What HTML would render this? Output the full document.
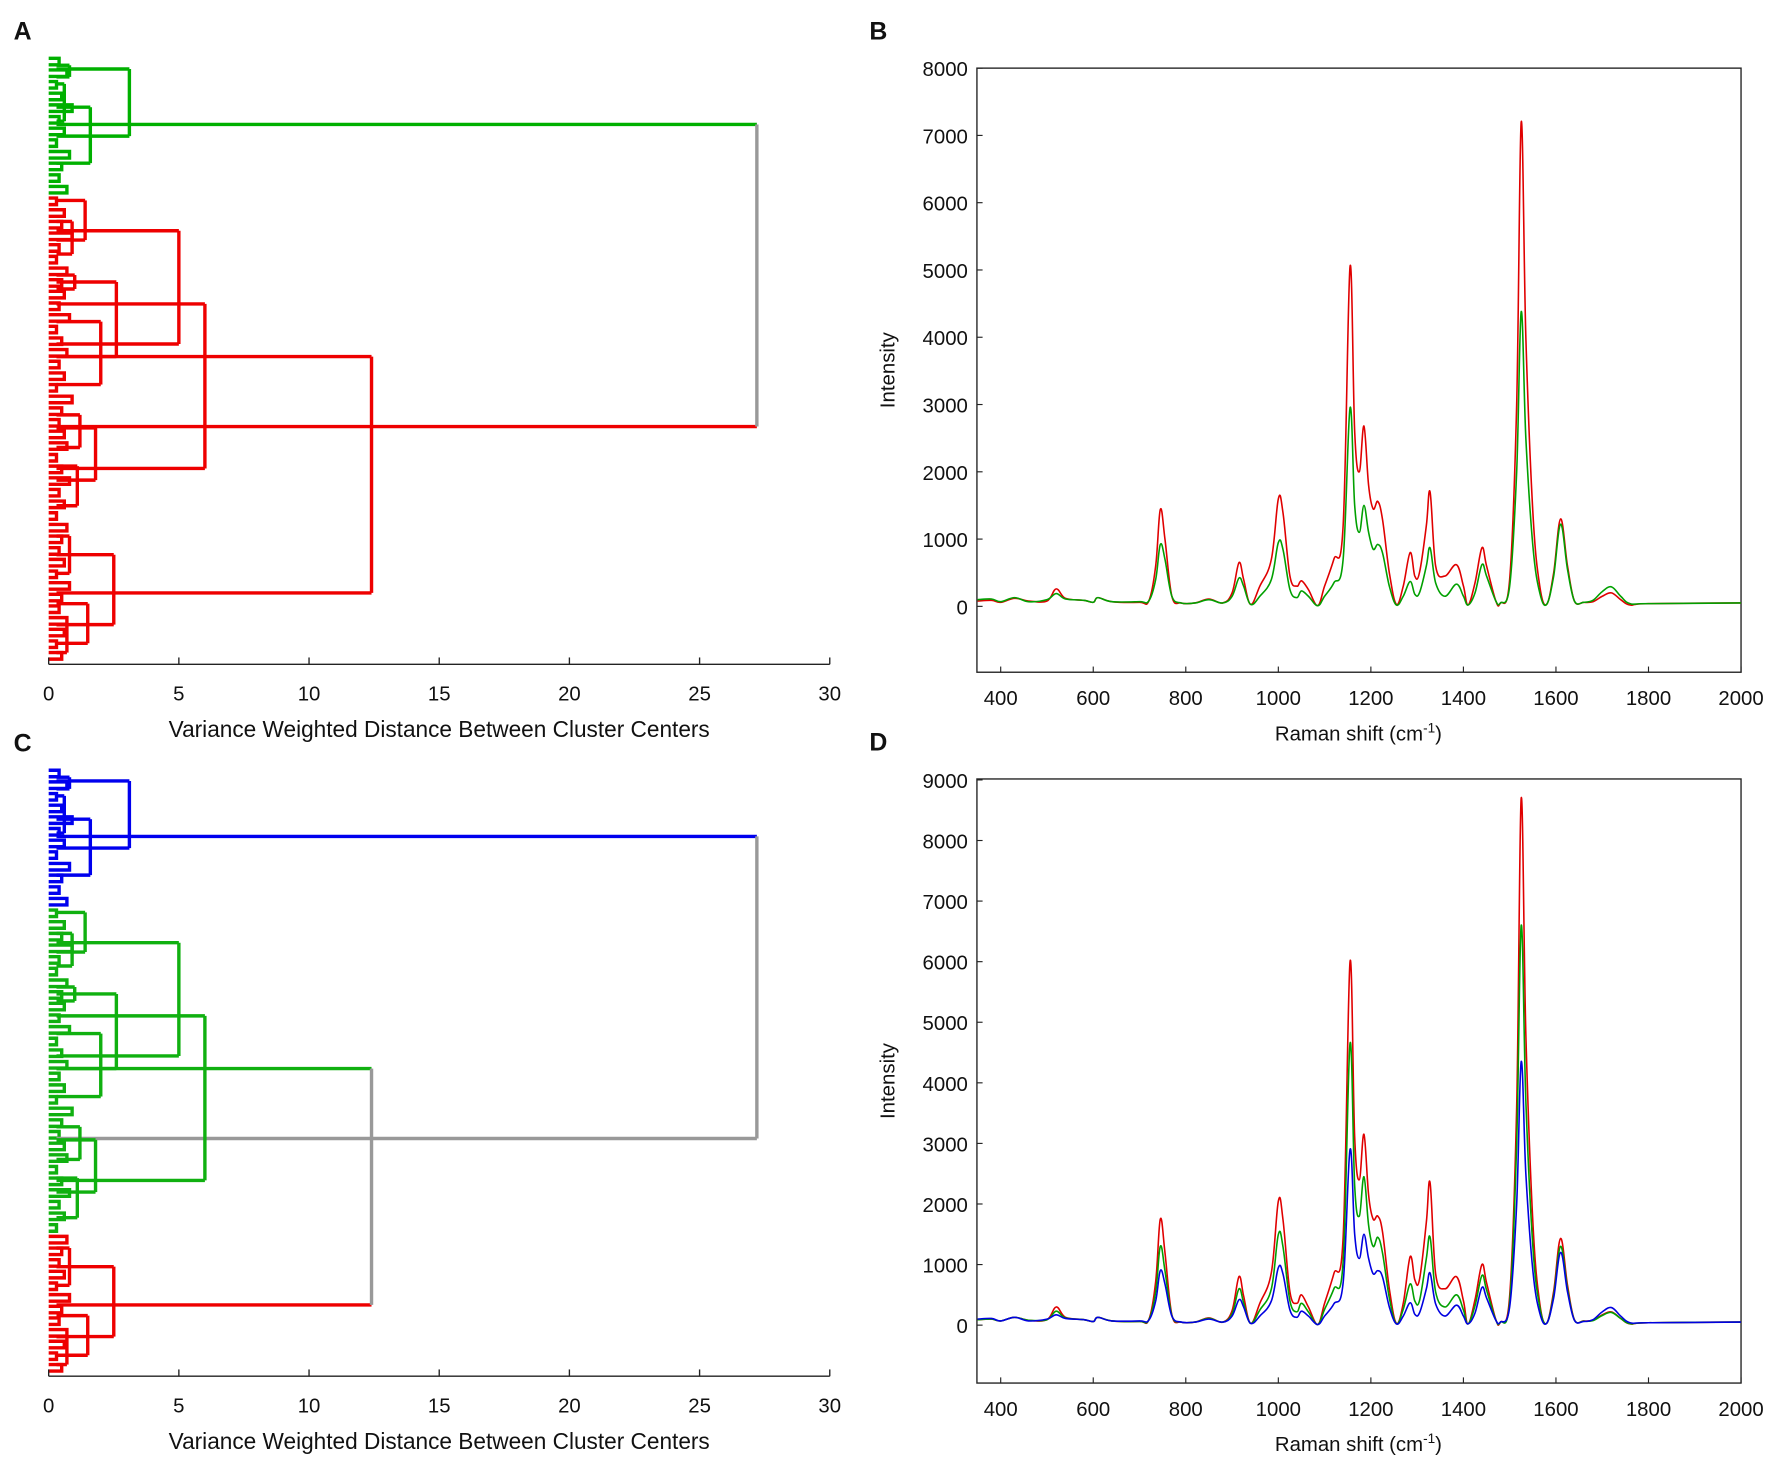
<!DOCTYPE html>
<html><head><meta charset="utf-8">
<style>
html,body{margin:0;padding:0;background:#fff;}
svg{display:block;}
text{font-family:"Liberation Sans",Arial,sans-serif;fill:#111;}
</style></head>
<body>
<svg id="fig" width="1775" height="1458" viewBox="0 0 1568 1284" preserveAspectRatio="none" xmlns="http://www.w3.org/2000/svg">
<g id="pA"></g>
<g id="pC"></g>
<g id="pB"></g>
<g id="pD"></g>
</svg>
<script>
// ---------- spectra data ----------
const shifts = [350,380,400,430,460,500,520,540,580,600,610,640,700,720,735,745,755,770,790,820,850,880,900,915,925,940,960,985,1000,1010,1025,1040,1050,1065,1085,1100,1120,1140,1155,1165,1175,1185,1195,1205,1215,1225,1240,1255,1270,1285,1295,1305,1320,1328,1340,1360,1385,1400,1410,1425,1440,1450,1470,1480,1500,1515,1525,1535,1550,1565,1580,1595,1610,1625,1640,1660,1680,1700,1720,1740,1760,1800,2000];
const bRed = [80,90,60,120,80,80,260,120,90,60,130,70,60,80,600,1440,1000,150,50,50,110,50,200,650,400,30,300,700,1600,1400,450,300,380,250,10,300,700,1200,5050,2600,2000,2680,1800,1450,1560,1300,500,30,300,800,450,500,1200,1700,600,450,620,300,20,350,870,600,80,50,400,3000,7200,4000,1400,300,30,500,1300,600,80,60,70,150,200,100,20,40,50];
const bGreen = [100,110,70,130,70,100,190,110,90,60,130,70,70,80,400,920,700,150,50,50,100,50,150,420,300,30,150,400,950,850,250,130,230,150,10,150,350,700,2950,1500,1100,1500,1100,850,920,800,300,20,150,370,180,200,600,870,350,150,330,150,20,200,620,450,80,50,300,2000,4380,2500,900,200,30,450,1220,550,80,60,90,220,290,150,40,40,50];
const dRed = [90,100,70,130,80,90,300,130,90,60,130,70,60,90,720,1750,1200,170,50,50,120,50,240,800,480,30,360,870,2050,1750,550,360,500,300,10,360,850,1450,6000,3100,2400,3150,2150,1750,1800,1550,600,30,360,1130,750,750,1700,2350,850,600,800,400,20,420,1000,700,90,50,480,3600,8700,4800,1700,360,30,560,1430,660,90,70,80,170,220,110,20,40,50];
const dGreen = [90,100,70,130,80,90,230,120,90,60,130,70,60,85,550,1300,900,160,50,50,110,50,190,600,370,30,250,600,1500,1300,400,220,360,220,10,260,600,1050,4650,2300,1800,2450,1650,1300,1450,1200,450,25,260,680,400,400,1100,1450,550,300,500,250,20,320,820,580,85,50,380,3000,6600,3700,1300,300,30,500,1300,600,85,65,75,160,210,110,25,40,50];
const dBlue = [100,110,70,130,70,100,170,110,90,60,130,70,70,80,400,900,680,150,50,50,100,50,150,420,300,30,150,400,950,850,250,130,230,150,10,150,350,700,2900,1500,1100,1500,1100,850,900,800,300,20,150,370,180,200,600,860,350,150,330,150,20,200,620,450,80,50,300,2000,4350,2500,900,200,30,450,1200,550,80,60,90,220,290,150,40,40,50];
const xTicks = [400,600,800,1000,1200,1400,1600,1800,2000];
const yTicksB = [0,1000,2000,3000,4000,5000,6000,7000,8000];
const yTicksD = [0,1000,2000,3000,4000,5000,6000,7000,8000,9000];
// ---------- dendrogram data (distances; y in leaf units) ----------
const linkDist = [27.2,3.1,1.6,0.8,12.4,6.0,5.0,1.4,2.6,1.0,2.0,1.8,1.1,2.5,0.8,1.5,0.9,0.6,1.2,0.7];
const linkTop  = [267,148,230,140,765,652,495,430,605,590,690,918,1000,1190,1150,1295,475,180,890,1340];
const linkBot  = [915,292,350,165,1272,1005,738,515,765,620,825,1030,1085,1340,1230,1380,545,260,960,1400];
const leafDist = [0.4,0.7,0.3,0.5,0.9,0.4,0.6,0.3,0.8,0.5,0.4,0.7,0.3,0.6,0.5,0.9,0.4,0.3,0.7,0.5,0.6,0.4,0.8,0.3,0.5,0.7,0.4,0.6,0.3,0.9,0.5,0.4,0.6,0.7,0.3,0.5,0.8,0.4,0.6,0.3,0.7,0.5,0.4,0.6,0.3,0.8,0.5,0.4,0.7,0.6,0.3,0.5];
const distTicks = [0,5,10,15,20,25,30];

const NS='http://www.w3.org/2000/svg';
function mk(parent,tag,attrs,txt){const e=document.createElementNS(NS,tag);for(const k in attrs)e.setAttribute(k,attrs[k]);if(txt!==undefined)e.textContent=txt;parent.appendChild(e);return e;}

function leafColor(y,mode){
  if(mode==='A') return y<=410?'#00b000':'#ee0000';
  return y<=410?'#0000ee':(y<=1105?'#10b010':'#ee0000');
}
function dendro(g,off,mode,label){
  const X=d=>43+d*23, Y=z=>z/2.436+off;
  const lab=mk(g,'text',{x:12,y:35+off,'font-size':22,'font-weight':'bold'},label);
  
  
  for(let i=0;i<leafDist.length;i++){
    const y1=125+i*25, y2=y1+14, d=leafDist[i];
    const c=leafColor(y1,mode);
    const p=mk(g,'path',{d:`M${X(0)},${Y(y1)}H${X(d)}V${Y(y2)}H${X(0)}`,fill:'none',stroke:c,'stroke-width':3});
    
    
  }
  const lv=mk(g,'line',{x1:X(0.05),x2:X(0.05),y1:Y(120),y2:Y(1425),stroke:'none'});
  for(let i=0;i<linkDist.length;i++){
    const d=linkDist[i], t=linkTop[i], b=linkBot[i];
    let c=leafColor(t,mode);
    if(i===0) c='#999';
    if(mode==='C'&&i===4) c='#999';
    let cT=leafColor(t,mode), cB=leafColor(b,mode);
    if(mode==='C'&&i===0) cB='#999';
    const hT=mk(g,'path',{d:`M${X(0.3)},${Y(t)}H${X(d)}`,stroke:cT,'stroke-width':3,fill:'none'});
    
    
    const hB=mk(g,'path',{d:`M${X(0.3)},${Y(b)}H${X(d)}`,stroke:cB,'stroke-width':3,fill:'none'});
    
    
    const v=mk(g,'path',{d:`M${X(d)},${Y(t)}V${Y(b)}`,stroke:c,'stroke-width':3,fill:'none'});
    
    
  }
  const ay=585+off;
  const ax=mk(g,'line',{x1:X(0),x2:X(30),y1:ay,y2:ay,stroke:'#222','stroke-width':1.2});
  
  
  distTicks.forEach(t=>{
    mk(g,'line',{x1:X(t),x2:X(t),y1:ay,y2:ay-6,stroke:'#222','stroke-width':1.2});
    const tl=mk(g,'text',{x:X(t),y:ay+32,'font-size':18,'text-anchor':'middle'},String(t));
    
    
  });
  const tt=mk(g,'text',{x:388,y:ay+64,'font-size':20,'text-anchor':'middle'},'Variance Weighted Distance Between Cluster Centers');
  
  
}
dendro(document.getElementById('pA'),0,'A','A');
dendro(document.getElementById('pC'),627,'C','C');

function smoothPath(P){
  let d=`M${P[0][0].toFixed(1)},${P[0][1].toFixed(1)}`;
  for(let i=0;i<P.length-1;i++){
    const p0=P[i-1]||P[i], p1=P[i], p2=P[i+1], p3=P[i+2]||p2;
    const t=0.18;
    const c1=[p1[0]+(p2[0]-p0[0])*t, p1[1]+(p2[1]-p0[1])*t];
    const c2=[p2[0]-(p3[0]-p1[0])*t, p2[1]-(p3[1]-p1[1])*t];
    d+=`C${c1[0].toFixed(1)},${c1[1].toFixed(1)} ${c2[0].toFixed(1)},${c2[1].toFixed(1)} ${p2[0].toFixed(1)},${p2[1].toFixed(1)}`;
  }
  return d;
}
function spectra(g,top,bot,zeroY,perUnit,yTicks,series,label){
  const X=v=>884+(v-400)*0.40875, Y=v=>zeroY-v*perUnit;
  const l=mk(g,'text',{x:768,y:top-25,'font-size':22,'font-weight':'bold'},label);
  
  
  const box=mk(g,'rect',{x:863,y:top,width:675,height:bot-top,fill:'none',stroke:'#222','stroke-width':1.2});
  
  
  xTicks.forEach(t=>{
    mk(g,'line',{x1:X(t),x2:X(t),y1:bot,y2:bot-5,stroke:'#222','stroke-width':1});
    const tl=mk(g,'text',{x:X(t),y:bot+29,'font-size':18,'text-anchor':'middle'},String(t));
    
    
  });
  yTicks.forEach(t=>{
    mk(g,'line',{x1:863,x2:868,y1:Y(t),y2:Y(t),stroke:'#222','stroke-width':1});
    const tl=mk(g,'text',{x:855,y:Y(t)+7,'font-size':18,'text-anchor':'end'},String(t));
    
    
  });
  const yt=mk(g,'text',{x:0,y:0,'font-size':18,'text-anchor':'middle',transform:`translate(790,${(top+bot)/2}) rotate(-90)`},'Intensity');
  
  
  const xt=mk(g,'text',{x:1200,y:bot+60,'font-size':18,'text-anchor':'middle'});
  
  
  xt.innerHTML='Raman shift (cm<tspan dy="-7" font-size="12">-1</tspan><tspan dy="7">)</tspan>';
  series.forEach(s=>{
    const P=shifts.map((x,i)=>[X(x),Y(s.v[i])]);
    const p=mk(g,'path',{d:smoothPath(P),fill:'none',stroke:s.c,'stroke-width':1.4,'stroke-linejoin':'round'});
    
    
  });
}
spectra(document.getElementById('pB'),60,592,534,0.05925,yTicksB,
  [{v:bRed,c:'#e00000',n:'series-red'},{v:bGreen,c:'#00a000',n:'series-green'}],'B');
spectra(document.getElementById('pD'),686,1218,1167,0.05335,yTicksD,
  [{v:dRed,c:'#e00000',n:'series-red'},{v:dGreen,c:'#00a000',n:'series-green'},{v:dBlue,c:'#0000e0',n:'series-blue'}],'D');
</script>
</body></html>
